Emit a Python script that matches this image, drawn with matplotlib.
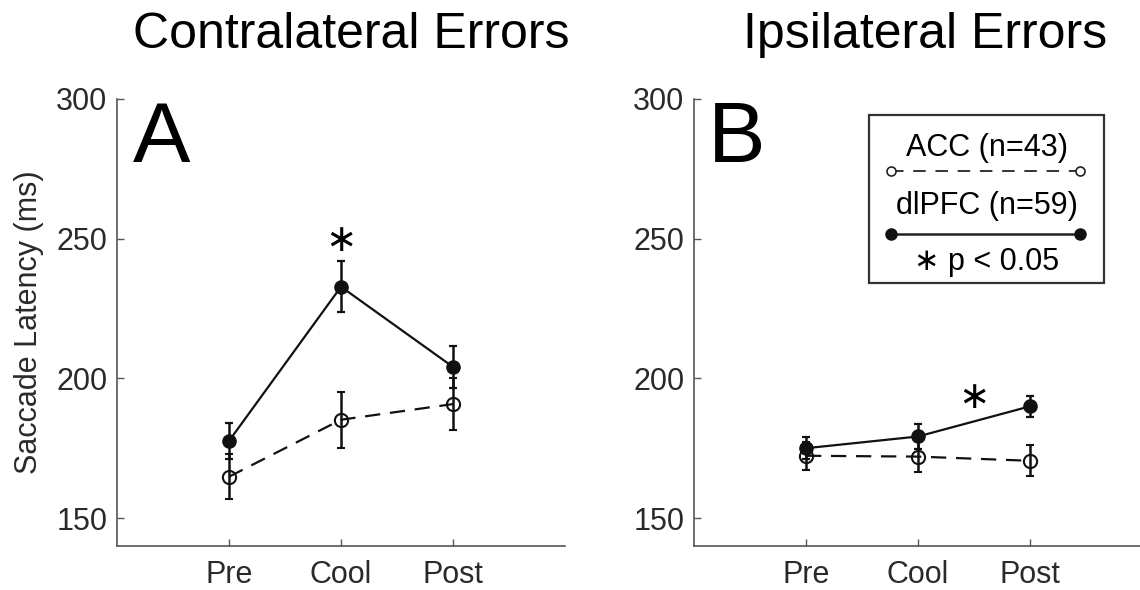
import matplotlib
matplotlib.use("Agg")
import matplotlib.pyplot as plt
from matplotlib.lines import Line2D
from matplotlib.patches import Rectangle

plt.rcParams['font.family'] = ['Liberation Sans', 'DejaVu Sans']
plt.rcParams['lines.scale_dashes'] = False

# === data: mean saccade latency (ms) +/- SEM ===
conditions = ["Pre", "Cool", "Post"]
x_pos = [1, 2, 3]

contra_acc = [164.8, 185.2, 190.8]
contra_acc_err = [8.1, 10.0, 9.4]
contra_dlpfc = [177.6, 232.8, 204.1]
contra_dlpfc_err = [6.4, 9.2, 7.6]

ipsi_acc = [172.3, 172.0, 170.5]
ipsi_acc_err = [5.0, 5.5, 5.5]
ipsi_dlpfc = [175.0, 179.2, 190.0]
ipsi_dlpfc_err = [4.0, 4.6, 3.7]

# significance markers (x, y)
contra_sig = [(2.0, 249.0)]
ipsi_sig = [(2.5, 193.0)]

yticks = [150, 200, 250, 300]

W, H = 1140, 590
fig = plt.figure(figsize=(W / 100, H / 100), dpi=100)


def px(x, y):
    # pixel position (from top-left) -> figure fraction
    return x / W, 1 - y / H


axA = fig.add_axes([117 / W, 44 / H, 448 / W, 447 / H])
axB = fig.add_axes([694 / W, 44 / H, 448 / W, 447 / H])

spine_col = "#555555"
tick_col = "#2a2a2a"


def draw_panel(ax, acc, acc_err, dl, dl_err, sig):
    ax.errorbar(x_pos, acc, yerr=acc_err, color="#111111", lw=1.6,
                elinewidth=1.8, capsize=3, capthick=1.6,
                marker='o', ms=9.5, mfc='none', mec="#111111", mew=1.5,
                dashes=(11, 7), zorder=3)
    ax.errorbar(x_pos, dl, yerr=dl_err, color="#111111", lw=1.6,
                elinewidth=1.8, capsize=3, capthick=1.6,
                marker='o', ms=9.5, mfc="#111111", mec="#111111",
                linestyle='-', zorder=4)
    for sx, sy in sig:
        ax.text(sx, sy, "\u2217", ha='center', va='center', fontsize=27,
                family=['DejaVu Sans'])
    ax.set_xlim(0, 4)
    ax.set_ylim(140, 300)
    ax.set_xticks(x_pos)
    ax.set_xticklabels(conditions)
    ax.set_yticks(yticks)
    for side in ("top", "right"):
        ax.spines[side].set_visible(False)
    for side in ("left", "bottom"):
        ax.spines[side].set_color(spine_col)
        ax.spines[side].set_linewidth(1.2)
    ax.tick_params(direction='in', length=5, width=1, color=spine_col,
                   labelsize=22, labelcolor=tick_col)
    ax.tick_params(axis='y', pad=7)
    ax.tick_params(axis='x', pad=10)


draw_panel(axA, contra_acc, contra_acc_err, contra_dlpfc, contra_dlpfc_err, contra_sig)
draw_panel(axB, ipsi_acc, ipsi_acc_err, ipsi_dlpfc, ipsi_dlpfc_err, ipsi_sig)

axA.set_ylabel("Saccade Latency (ms)", fontsize=22, color=tick_col)
axA.yaxis.set_label_coords(-0.163, 0.5)

# titles and panel letters
fig.text(*px(351, 48), "Contralateral Errors", fontsize=36, ha='center', va='baseline')
fig.text(*px(925, 48), "Ipsilateral Errors", fontsize=36, ha='center', va='baseline')
fig.text(*px(133, 162), "A", fontsize=62, ha='left', va='baseline')
fig.text(*px(708, 162), "B", fontsize=62, ha='left', va='baseline')

# legend box
x0, y0 = px(869, 283)
x1, y1 = px(1104, 115)
fig.add_artist(Rectangle((x0, y0), x1 - x0, y1 - y0, transform=fig.transFigure,
                         fill=False, edgecolor="#333333", lw=1.6))
fig.text(*px(987, 148), "ACC (n=43)", fontsize=22, ha='center', va='center')
lx0, ly = px(891, 171)
lx1, _ = px(1080, 171)
fig.add_artist(Line2D([lx0, lx1], [ly, ly], transform=fig.transFigure,
                      color="#333333", lw=1.4, dashes=(9, 7),
                      marker='o', ms=6.5, mfc='white', mec="#222222", mew=1.2))
fig.text(*px(987, 206), "dlPFC (n=59)", fontsize=22, ha='center', va='center')
lx0, ly = px(891, 234)
lx1, _ = px(1080, 234)
fig.add_artist(Line2D([lx0, lx1], [ly, ly], transform=fig.transFigure,
                      color="#222222", lw=1.8, linestyle='-',
                      marker='o', ms=8, mfc="#111111", mec="#111111"))
fig.text(*px(987, 262), "\u2217 p < 0.05", fontsize=22, ha='center', va='center')

fig.savefig("out.png", dpi=100, facecolor='white')
